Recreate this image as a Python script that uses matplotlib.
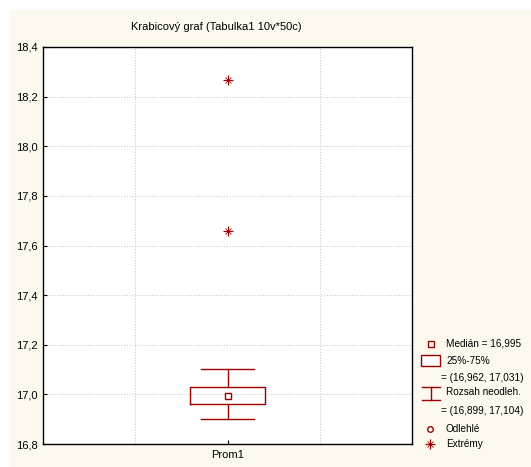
import matplotlib
matplotlib.use("Agg")
import matplotlib.pyplot as plt
from matplotlib.patches import Rectangle

# ---- data ----
variable = "Prom1"
median = 16.995
q1, q3 = 16.962, 17.031
whisk_lo, whisk_hi = 16.899, 17.104
extremes = [17.66, 18.265]
yticks = [16.8, 17.0, 17.2, 17.4, 17.6, 17.8, 18.0, 18.2, 18.4]

RED = "#990000"
BG = "#fdf9ef"
FS = 8
LFS = 7.2
plt.rcParams['font.family'] = ['Liberation Sans', 'DejaVu Sans']

W, H = 531, 467
fig = plt.figure(figsize=(W / 100, H / 100), dpi=100)
fig.patch.set_facecolor("white")
# cream background panel
fig.patches.append(Rectangle((10 / W, 0), 1 - 10 / W, 1 - 10 / H, transform=fig.transFigure,
                             facecolor=BG, edgecolor="none", zorder=-10))

def fx(px):
    return px / W

def fy(py):
    return 1 - py / H

L, R, T, B = 43, 412, 47, 444
ax = fig.add_axes([fx(L), fy(B), fx(R - L), (B - T) / H])
ax.set_facecolor("white")

stats = [dict(med=median, q1=q1, q3=q3, whislo=whisk_lo, whishi=whisk_hi, fliers=[], label=variable)]
ax.bxp(stats, positions=[2], widths=0.81, showfliers=False, showcaps=True,
       boxprops=dict(color=RED, linewidth=1.0),
       whiskerprops=dict(color=RED, linewidth=1.0),
       capprops=dict(color=RED, linewidth=1.0),
       medianprops=dict(linewidth=0),
       capwidths=0.57, zorder=3)
ax.plot([2], [median], marker="s", markersize=5, markerfacecolor="white",
        markeredgecolor=RED, markeredgewidth=1.0, linestyle="none", zorder=4)
ax.plot([2] * len(extremes), extremes, marker="+", markersize=7, color=RED,
        markeredgewidth=0.9, linestyle="none", zorder=4)
ax.plot([2] * len(extremes), extremes, marker="x", markersize=4.5, color=RED,
        markeredgewidth=0.6, linestyle="none", zorder=4)

ax.set_xlim(0, 4)
ax.set_ylim(16.8, 18.4)
ax.set_yticks(yticks)
ax.set_yticklabels([f"{v:.1f}".replace(".", ",") for v in yticks], fontsize=FS)
ax.set_xticks([2])
ax.set_xticklabels([variable], fontsize=FS)
ax.set_xticks([1, 2, 3], minor=True)
ax.tick_params(axis="both", which="major", direction="in", length=3, width=0.8,
               colors="black", pad=4)
ax.tick_params(axis="x", which="minor", length=0)
ax.grid(True, which="major", axis="y", color="#cccccc", linestyle=(0, (1, 1.5)),
        linewidth=0.8, zorder=0)
ax.grid(True, which="minor", axis="x", color="#cccccc", linestyle=(0, (1, 1.5)),
        linewidth=0.8, zorder=0)
for s in ax.spines.values():
    s.set_linewidth(1.0)
    s.set_color("black")

fig.text(fx(216), fy(27), "Krabicový graf (Tabulka1 10v*50c)", fontsize=FS,
         ha="center", va="center")

# ---- legend ----
fmt = lambda v: f"{v:.3f}".replace(".", ",")
tx = fx(446)
fig.add_artist(plt.Line2D([fx(431)], [fy(344)], marker="s", markersize=4.5,
                          markerfacecolor="white", markeredgecolor=RED, markeredgewidth=1.0,
                          transform=fig.transFigure))
fig.text(tx, fy(344), f"Medián = {fmt(median)}", fontsize=LFS, va="center")
fig.add_artist(Rectangle((fx(421), fy(366)), fx(19), 11 / H, transform=fig.transFigure,
                         facecolor="white", edgecolor=RED, linewidth=1.0))
fig.text(tx, fy(361), "25%-75%", fontsize=LFS, va="center")
fig.text(fx(441), fy(378), f"= ({fmt(q1)}, {fmt(q3)})", fontsize=LFS, va="center")
for y in (387, 400):
    fig.add_artist(plt.Line2D([fx(422), fx(440)], [fy(y), fy(y)], color=RED, linewidth=1.0,
                              transform=fig.transFigure))
fig.add_artist(plt.Line2D([fx(431), fx(431)], [fy(387), fy(400)], color=RED, linewidth=1.0,
                          transform=fig.transFigure))
fig.text(tx, fy(392), "Rozsah neodleh.", fontsize=LFS, va="center")
fig.text(fx(441), fy(411), f"= ({fmt(whisk_lo)}, {fmt(whisk_hi)})", fontsize=LFS, va="center")
fig.add_artist(plt.Line2D([fx(430)], [fy(429)], marker="o", markersize=4,
                          markerfacecolor="white", markeredgecolor=RED, markeredgewidth=1.0,
                          transform=fig.transFigure))
fig.text(tx, fy(429), "Odlehlé", fontsize=LFS, va="center")
fig.add_artist(plt.Line2D([fx(430)], [fy(444)], marker="+", markersize=6.5, color=RED,
                          markeredgewidth=0.9, transform=fig.transFigure))
fig.add_artist(plt.Line2D([fx(430)], [fy(444)], marker="x", markersize=4, color=RED,
                          markeredgewidth=0.6, transform=fig.transFigure))
fig.text(tx, fy(444), "Extrémy", fontsize=LFS, va="center")

fig.savefig("out.png", dpi=100, facecolor=fig.get_facecolor())
